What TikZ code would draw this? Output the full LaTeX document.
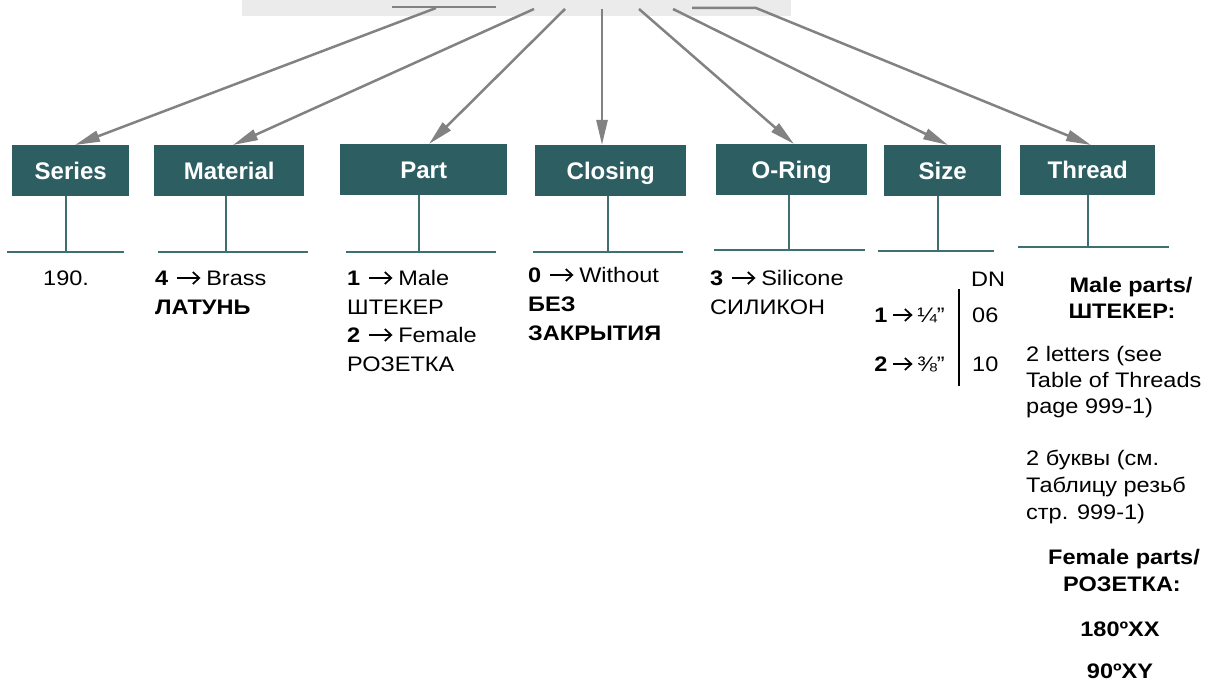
\documentclass[tikz,border=0pt]{standalone}
\usepackage{fontspec}
\setmainfont{Liberation Sans}
\newfontfamily\bodyf[FakeStretch=1.12]{Liberation Sans}
\usetikzlibrary{arrows.meta,calc}
\definecolor{boxteal}{RGB}{45,95,98}
\definecolor{stemteal}{RGB}{62,112,114}
\definecolor{arrgray}{RGB}{130,130,130}
\definecolor{bandgray}{RGB}{235,235,235}
% #1 gap before, #2 arrow length, #3 gap after
\newcommand{\chevarrow}[3]{\tikz[baseline=0pt, x=1pt, y=1pt]{%
  \useasboundingbox (0,0) rectangle ({#1+#2+#3},14);
  \draw[black, line width=1.7pt, line cap=butt] (#1,7) -- ({#1+#2-0.5},7);
  \draw[black, line width=1.7pt, line cap=butt, line join=miter] ({#1+#2-6.5},13) -- ({#1+#2},7) -- ({#1+#2-6.5},1);}}
\newcommand{\bigarr}{\chevarrow{9}{22}{7}}
\newcommand{\smallarr}{\chevarrow{6}{18}{6}}
\begin{document}
\begin{tikzpicture}[x=1pt,y=-1pt,
  box/.style={fill=boxteal, text=white, font=\fontsize{24}{28}\selectfont\bfseries, anchor=north west, inner sep=0pt, minimum height=51pt, text height=17pt, text depth=0pt},
  stemline/.style={draw=stemteal, line width=2.2pt},
  feed/.style={draw=arrgray, line width=2.5pt, -{Triangle[length=25pt,width=11pt]}},
  plainfeed/.style={draw=arrgray, line width=2.5pt},
  txt/.style={anchor=base west, inner sep=0pt, font=\bodyf\fontsize{21}{25}\selectfont},
  rtxt/.style={anchor=base east, inner sep=0pt, font=\bodyf\fontsize{21}{25}\selectfont},
  ctxt/.style={anchor=base, inner sep=0pt, font=\bodyf\fontsize{21}{25}\selectfont\bfseries},
]
\useasboundingbox (0,0) rectangle (1211,682);
% top band
\fill[bandgray] (242,0) rectangle (791,16);

% boxes
\node[box, minimum width=117pt] (series) at (12,145) {Series};
\node[box, minimum width=150pt] (material) at (154,145) {Material};
\node[box, minimum width=167pt] (part) at (340,144) {Part};
\node[box, minimum width=151pt] (closing) at (535,145) {Closing};
\node[box, minimum width=151pt] (oring) at (716,144) {O-Ring};
\node[box, minimum width=117pt] (size) at (884,145) {Size};
\node[box, minimum width=135pt, minimum height=50pt] (thread) at (1020,145) {Thread};

% arrow starts
\coordinate (l1) at (392,7);
\coordinate (l2) at (496,7);
\coordinate (a1) at (436,8);
\coordinate (a2) at (534,9);
\coordinate (a3) at (565,9);
\coordinate (a4) at (602,9);
\coordinate (a5) at (639,9);
\coordinate (a6) at (673,9);
\coordinate (a7s) at (692,8);
\coordinate (a7) at (756,8);
% arrow tip columns
\coordinate (x1) at (75,0);
\coordinate (x2) at (233,0);
\coordinate (x3) at (429,0);
\coordinate (x4) at (602,0);
\coordinate (x5) at (794,0);
\coordinate (x6) at (948,0);
\coordinate (x7) at (1091,0);

\draw[plainfeed] (l1) -- (l2);
\draw[feed] (a1) -- (series.north -| x1);
\draw[feed] (a2) -- (material.north -| x2);
\draw[feed] (a3) -- (part.north -| x3);
\draw[feed] (a4) -- (closing.north -| x4);
\draw[feed] (a5) -- (oring.north -| x5);
\draw[feed] (a6) -- (size.north -| x6);
\draw[feed] (a7s) -- (a7) -- (thread.north -| x7);

% stems and bars
\coordinate (b1) at (66,252);
\coordinate (b2) at (226,252);
\coordinate (b3) at (419,252);
\coordinate (b4) at (608,252);
\coordinate (b5) at (789,250);
\coordinate (b6) at (938,251);
\coordinate (b7) at (1088,247);
\draw[stemline] (series.south -| b1) -- (b1);
\draw[stemline] (material.south -| b2) -- (b2);
\draw[stemline] (part.south -| b3) -- (b3);
\draw[stemline] (closing.south -| b4) -- (b4);
\draw[stemline] (oring.south -| b5) -- (b5);
\draw[stemline] (size.south -| b6) -- (b6);
\draw[stemline] (thread.south -| b7) -- (b7);
\draw[stemline] (7,252) -- (124,252);
\draw[stemline] (158,252) -- (308,252);
\draw[stemline] (346,252) -- (496,252);
\draw[stemline] (533,252) -- (683,252);
\draw[stemline] (714,250) -- (865,250);
\draw[stemline] (878,251) -- (994,251);
\draw[stemline] (1018,247) -- (1169,247);

% Series
\node[txt] (s1) at (43,285) {190.};
% Material
\node[txt] (m1) at (155,285) {\textbf{4}\bigarr Brass};
\node[txt] (m2) at (155,314) {\textbf{ЛАТУНЬ}};
% Part
\node[txt] (p1) at (347,285) {\textbf{1}\bigarr Male};
\node[txt] (p2) at (347,314) {ШТЕКЕР};
\node[txt] (p3) at (347,342) {\textbf{2}\bigarr Female};
\node[txt] (p4) at (347,371) {РОЗЕТКА};
% Closing
\node[txt] (c1) at (528,282) {\textbf{0}\bigarr Without};
\node[txt] (c2) at (528,311) {\textbf{БЕЗ}};
\node[txt] (c3) at (528,340) {\textbf{ЗАКРЫТИЯ}};
% O-Ring
\node[txt] (o1) at (710,285) {\textbf{3}\bigarr Silicone};
\node[txt] (o2) at (710,314) {СИЛИКОН};
% Size
\node[txt] (dn) at (971,286) {DN};
\node[rtxt] (z1) at (945,322) {\textbf{1}\smallarr ¼”};
\node[rtxt] (z2) at (945,371) {\textbf{2}\smallarr ⅜”};
\node[txt] (d1) at (972,322) {06};
\node[txt] (d2) at (972,371) {10};
\coordinate (bart) at (959,289);
\coordinate (barb) at (959,386);
\draw[black, line width=2pt] (bart) -- (barb);
% Thread
\node[ctxt] (t1) at (1131,292) {Male parts/};
\node[ctxt] (t2) at (1122,318) {ШТЕКЕР:};
\node[txt] (t3) at (1026,361) {2 letters (see};
\node[txt] (t4) at (1026,387) {Table of Threads};
\node[txt] (t5) at (1026,413) {page 999-1)};
\node[txt] (t6) at (1026,465) {2 буквы (см.};
\node[txt] (t7) at (1026,492) {Таблицу резьб};
\node[txt] (t8) at (1026,519) {стр. 999-1)};
\node[ctxt] (t9) at (1124,564) {Female parts/};
\node[ctxt] (t10) at (1122,591) {РОЗЕТКА:};
\node[ctxt] (t11) at (1120,636) {180ºXX};
\node[ctxt] (t12) at (1120,678) {90ºXY};
\end{tikzpicture}
\end{document}
